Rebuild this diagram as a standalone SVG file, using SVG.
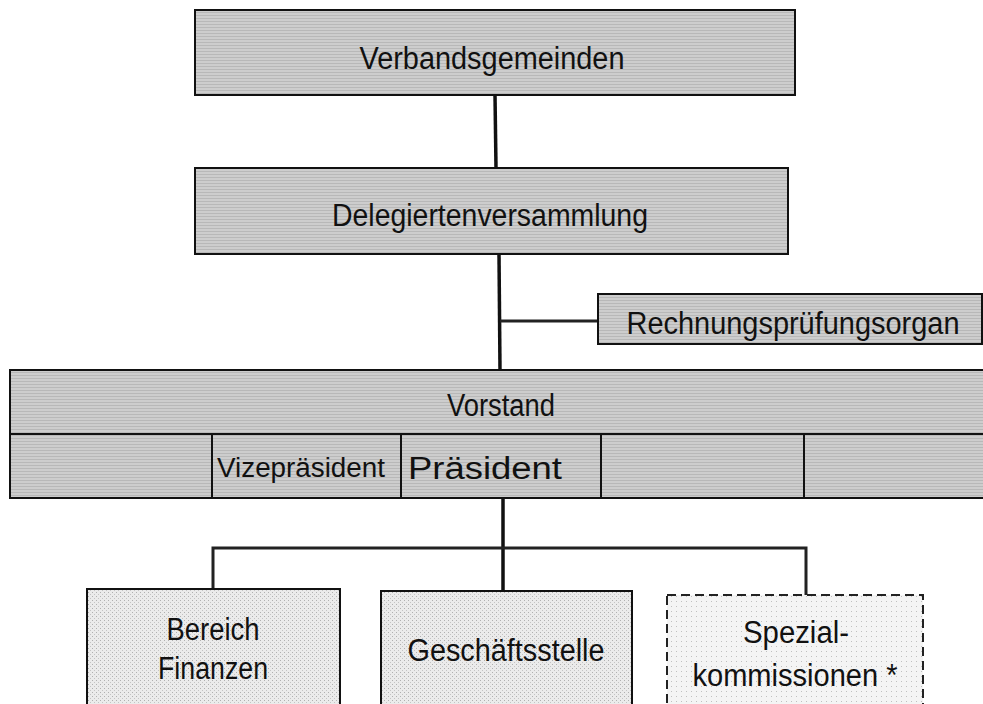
<svg xmlns="http://www.w3.org/2000/svg" width="983" height="704" viewBox="0 0 983 704">
<defs>
<pattern id="hatch" width="3" height="3" patternUnits="userSpaceOnUse">
<rect width="3" height="3" fill="#cdcdcd"/>
<rect width="3" height="1" fill="#b8b8b8"/>
</pattern>
<pattern id="dots" width="4" height="4" patternUnits="userSpaceOnUse">
<rect width="4" height="4" fill="#ebebeb"/>
<rect x="0" y="0" width="1" height="1" fill="#b0b0b0"/>
<rect x="2" y="2" width="1" height="1" fill="#c4c4c4"/>
</pattern>
<pattern id="dots2" width="5" height="5" patternUnits="userSpaceOnUse">
<rect width="5" height="5" fill="#f4f4f4"/>
<rect x="1" y="1" width="1" height="1" fill="#c0c0c0"/>
</pattern>
</defs>
<style>
.box{fill:url(#hatch);stroke:#111;stroke-width:2}
.lbox{fill:url(#dots);stroke:#111;stroke-width:2}
.dbox{fill:url(#dots2);stroke:#222;stroke-width:2;stroke-dasharray:9 5}
.t{font-family:"Liberation Sans",Arial,sans-serif;font-size:31px;fill:#111;text-anchor:middle}
.s{font-size:27px}
.c{stroke:#111;fill:none;stroke-width:3.5}
.c2{stroke:#222;fill:none;stroke-width:3}
</style>
<rect width="983" height="704" fill="#fff"/>
<g id="connectors">
<line class="c" x1="495" y1="95" x2="496" y2="168"/>
<line class="c" x1="499" y1="254" x2="500" y2="370"/>
<line class="c2" x1="500" y1="321" x2="598" y2="321"/>
<line class="c" x1="503" y1="498" x2="503" y2="591"/>
<polyline class="c2" points="213,589 213,548 806,548 806,595"/>
<line x1="806" y1="595" x2="806" y2="645" stroke="#777" stroke-width="3" stroke-dasharray="2 1"/>
</g>
<g id="verbandsgemeinden">
<rect class="box" x="195" y="10" width="600" height="85"/>
<text class="t" x="492" y="69" textLength="265" lengthAdjust="spacingAndGlyphs">Verbandsgemeinden</text>
</g>
<g id="delegiertenversammlung">
<rect class="box" x="195" y="168" width="593" height="86"/>
<text class="t" x="490" y="226" textLength="316" lengthAdjust="spacingAndGlyphs">Delegiertenversammlung</text>
</g>
<g id="rechnungspruefungsorgan">
<rect class="box" x="598" y="294" width="384" height="50"/>
<text class="t" x="793" y="334" textLength="333" lengthAdjust="spacingAndGlyphs">Rechnungsprüfungsorgan</text>
</g>
<g id="vorstand">
<rect class="box" x="10" y="370" width="980" height="128"/>
<line x1="10" y1="434" x2="990" y2="434" stroke="#111" stroke-width="2"/>
<line x1="212" y1="434" x2="212" y2="498" stroke="#111" stroke-width="2"/>
<line x1="401" y1="434" x2="401" y2="498" stroke="#111" stroke-width="2"/>
<line x1="601" y1="434" x2="601" y2="498" stroke="#111" stroke-width="2"/>
<line x1="804" y1="434" x2="804" y2="498" stroke="#111" stroke-width="2"/>
<text class="t" x="501" y="416" textLength="108" lengthAdjust="spacingAndGlyphs">Vorstand</text>
<text class="t s" x="301" y="477" textLength="168" lengthAdjust="spacingAndGlyphs">Vizepräsident</text>
<text class="t" x="485" y="479" textLength="154" lengthAdjust="spacingAndGlyphs">Präsident</text>
</g>
<g id="bereich-finanzen">
<rect class="lbox" x="87" y="589" width="253" height="120"/>
<text class="t" x="213" y="640" textLength="93" lengthAdjust="spacingAndGlyphs">Bereich</text>
<text class="t" x="213" y="679" textLength="110" lengthAdjust="spacingAndGlyphs">Finanzen</text>
</g>
<g id="geschaeftsstelle">
<rect class="lbox" x="381" y="591" width="251" height="118"/>
<text class="t" x="506" y="661" textLength="197" lengthAdjust="spacingAndGlyphs">Geschäftsstelle</text>
</g>
<g id="spezialkommissionen">
<rect class="dbox" x="667" y="595" width="256" height="120"/>
<text class="t" x="796" y="643" textLength="106" lengthAdjust="spacingAndGlyphs">Spezial-</text>
<text class="t" x="795" y="686" textLength="205" lengthAdjust="spacingAndGlyphs">kommissionen *</text>
</g>
</svg>
